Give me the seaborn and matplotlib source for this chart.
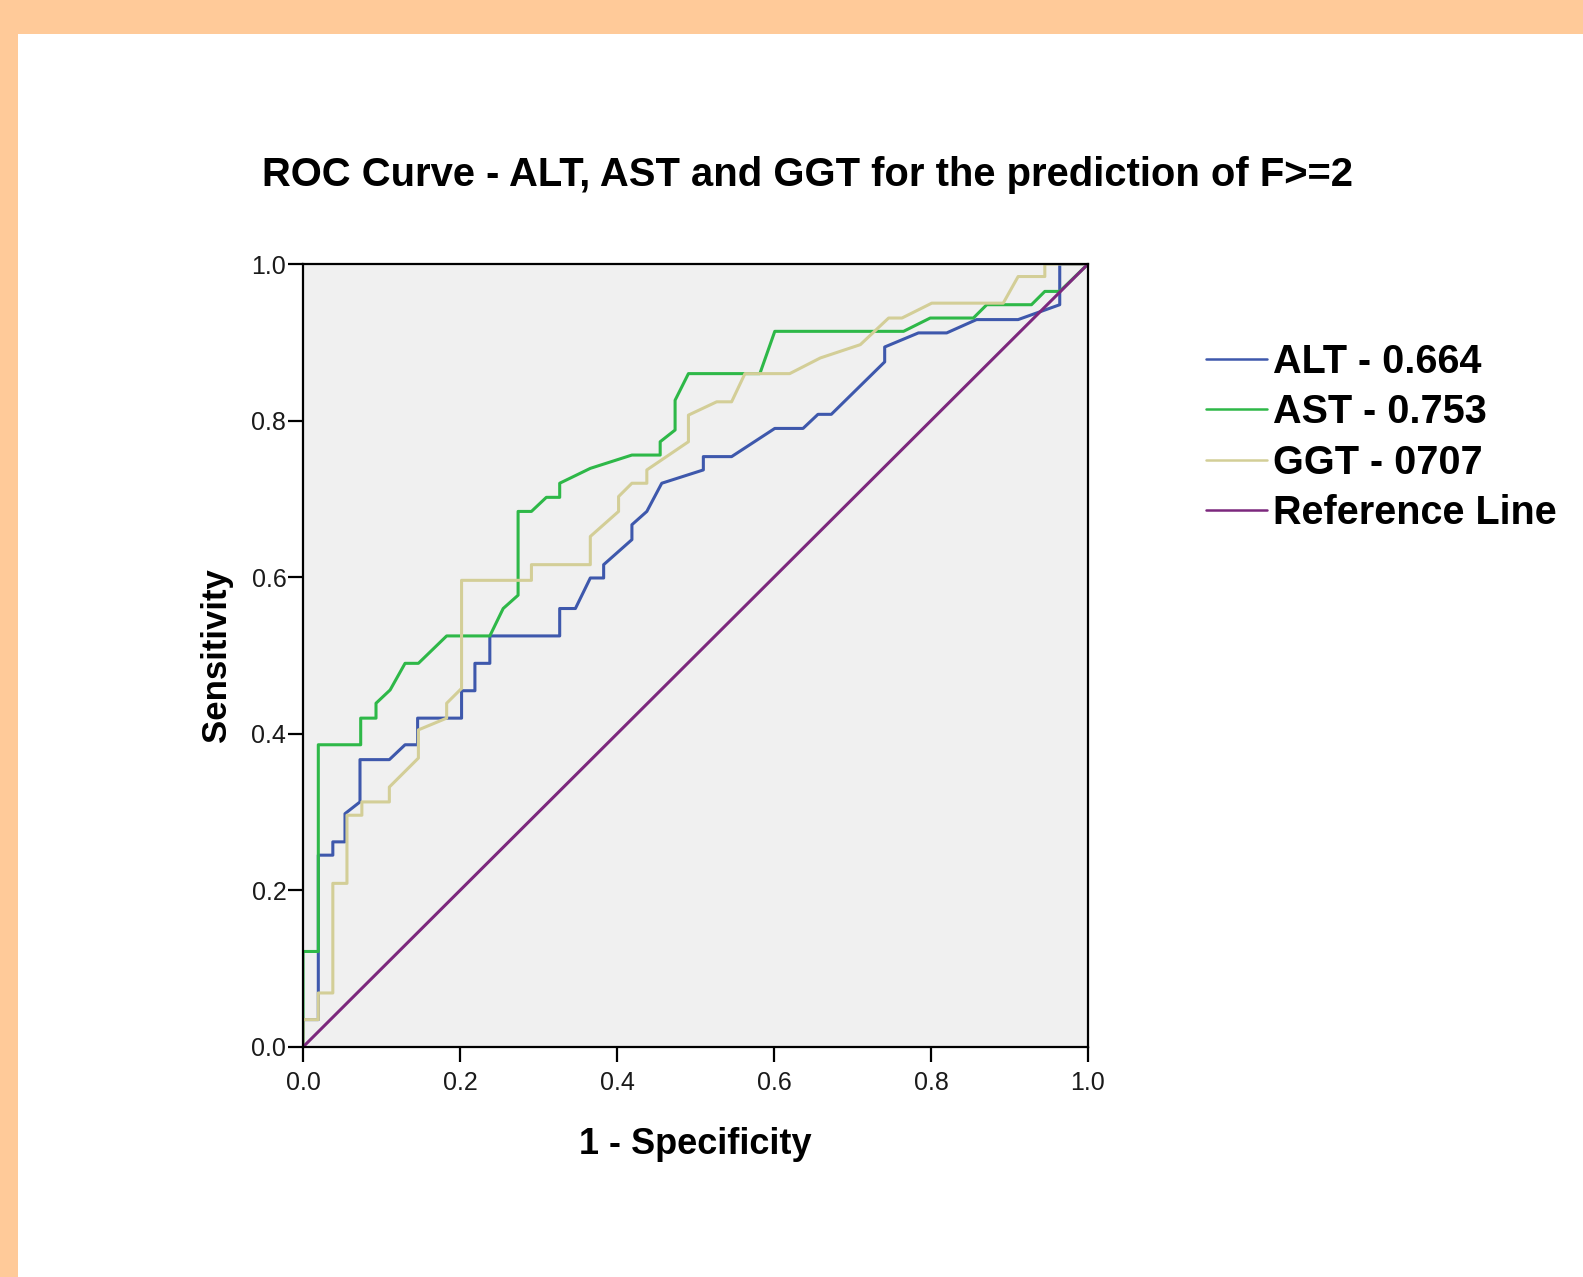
import matplotlib
matplotlib.use("Agg")
import matplotlib.pyplot as plt
from matplotlib.patches import Rectangle
import seaborn as sns
import pandas as pd

# ---- data ----
ALT_x = [0, 0, 0.0195, 0.0195, 0.038, 0.038, 0.0535, 0.0535, 0.0726, 0.0726, 0.11, 0.13, 0.146, 0.146,
         0.202, 0.202, 0.219, 0.219, 0.238, 0.238, 0.327, 0.327, 0.347, 0.366, 0.383, 0.383, 0.419, 0.419,
         0.438, 0.457, 0.51, 0.51, 0.546, 0.601, 0.637, 0.656, 0.673, 0.741, 0.741, 0.784, 0.82, 0.858,
         0.911, 0.964, 0.964, 1.0]
ALT_y = [0, 0.035, 0.035, 0.245, 0.245, 0.262, 0.262, 0.298, 0.313, 0.367, 0.367, 0.386, 0.386, 0.42,
         0.42, 0.455, 0.455, 0.49, 0.49, 0.525, 0.525, 0.56, 0.56, 0.599, 0.599, 0.616, 0.648, 0.667,
         0.684, 0.72, 0.737, 0.754, 0.754, 0.79, 0.79, 0.808, 0.808, 0.875, 0.894, 0.912, 0.912, 0.929,
         0.929, 0.948, 1.0, 1.0]

AST_x = [0, 0, 0.0195, 0.0195, 0.0735, 0.0735, 0.093, 0.093, 0.111, 0.13, 0.147, 0.183, 0.238, 0.255,
         0.274, 0.274, 0.291, 0.31, 0.327, 0.327, 0.366, 0.419, 0.455, 0.455, 0.474, 0.474, 0.491, 0.582,
         0.601, 0.765, 0.799, 0.854, 0.871, 0.928, 0.945, 0.964, 1.0]
AST_y = [0, 0.122, 0.122, 0.386, 0.386, 0.42, 0.42, 0.439, 0.456, 0.49, 0.49, 0.525, 0.525, 0.56,
         0.577, 0.684, 0.684, 0.702, 0.702, 0.72, 0.739, 0.756, 0.756, 0.773, 0.788, 0.826, 0.86, 0.86,
         0.914, 0.914, 0.931, 0.931, 0.948, 0.948, 0.965, 0.965, 1.0]

GGT_x = [0, 0, 0.0195, 0.0195, 0.038, 0.038, 0.056, 0.056, 0.075, 0.075, 0.11, 0.11, 0.147, 0.147,
         0.183, 0.183, 0.202, 0.202, 0.291, 0.291, 0.366, 0.366, 0.402, 0.402, 0.419, 0.438, 0.438, 0.491,
         0.491, 0.527, 0.546, 0.563, 0.62, 0.659, 0.71, 0.746, 0.763, 0.801, 0.892, 0.911, 0.945, 0.945, 1.0]
GGT_y = [0, 0.035, 0.035, 0.069, 0.069, 0.209, 0.209, 0.296, 0.296, 0.313, 0.313, 0.332, 0.369, 0.405,
         0.42, 0.439, 0.458, 0.596, 0.596, 0.616, 0.616, 0.652, 0.684, 0.703, 0.72, 0.72, 0.737, 0.773,
         0.807, 0.824, 0.824, 0.86, 0.86, 0.88, 0.897, 0.931, 0.931, 0.95, 0.95, 0.984, 0.984, 1.0, 1.0]

REF_x = [0, 1]
REF_y = [0, 1]

labels = ["ALT - 0.664", "AST - 0.753", "GGT - 0707", "Reference Line"]
colors = ["#3E58AC", "#2EB848", "#D3CE97", "#7C287D"]
ticks = [0.0, 0.2, 0.4, 0.6, 0.8, 1.0]
tick_labels = ["0.0", "0.2", "0.4", "0.6", "0.8", "1.0"]

frames = []
for lab, xs, ys in zip(labels, [ALT_x, AST_x, GGT_x, REF_x], [ALT_y, AST_y, GGT_y, REF_y]):
    frames.append(pd.DataFrame({"fpr": xs, "tpr": ys, "series": lab}))
df = pd.concat(frames, ignore_index=True)

sns.set_style("ticks")
plt.rcParams["font.family"] = ["Liberation Sans", "DejaVu Sans"]
plt.rcParams["text.color"] = "black"
plt.rcParams["axes.labelcolor"] = "black"

W, H = 1583, 1277
fig = plt.figure(figsize=(W / 100, H / 100), dpi=100, facecolor="white")
fig.patches.append(Rectangle((0, 1 - 34 / H), 1, 34 / H, transform=fig.transFigure,
                             facecolor="#FFCA99", edgecolor="none", zorder=-10))
fig.patches.append(Rectangle((0, 0), 18 / W, 1, transform=fig.transFigure,
                             facecolor="#FFCA99", edgecolor="none", zorder=-10))

ax = fig.add_axes([303 / W, 1 - 1047 / H, 785 / W, 783 / H])
ax.set_facecolor("#F0F0F0")

sns.lineplot(data=df, x="fpr", y="tpr", hue="series", hue_order=labels,
             palette=dict(zip(labels, colors)), sort=False, estimator=None,
             linewidth=2.2, ax=ax, legend=True)

ax.set_xlim(0, 1)
ax.set_ylim(0, 1)
ax.set_xticks(ticks)
ax.set_xticklabels(tick_labels)
ax.set_yticks(ticks)
ax.set_yticklabels(tick_labels)
for s in ax.spines.values():
    s.set_color("black")
    s.set_linewidth(1.6)
ax.tick_params(axis="both", direction="out", length=11, width=1.6, color="black",
               labelsize=18, labelcolor="#1a1a1a")
ax.tick_params(axis="y", pad=1)
ax.tick_params(axis="x", pad=6)

ax.set_xlabel("1 - Specificity", fontsize=26, fontweight="bold", color="black")
ax.set_ylabel("Sensitivity", fontsize=25, fontweight="bold", color="black")
ax.xaxis.set_label_coords(0.5, (1047 - 1144) / 783)
ax.xaxis.label.set_va("center")
ax.yaxis.set_label_coords((217 - 303) / 785, 0.5)
ax.yaxis.label.set_va("center")
ax.yaxis.label.set_ha("center")

fig.text(808 / W, 1 - 175 / H, "ROC Curve - ALT, AST and GGT for the prediction of F>=2",
         fontsize=28.8, fontweight="bold", ha="center", va="center", color="black")

handles, _ = ax.get_legend_handles_labels()
leg = ax.legend(handles=handles, labels=labels, loc="upper left",
                bbox_to_anchor=(1206 / W, 1 - 343 / H), bbox_transform=fig.transFigure,
                frameon=False, borderpad=0, borderaxespad=0, handlelength=1.55,
                handletextpad=0.15, labelspacing=0.31,
                prop={"size": 28.5, "weight": "bold"})
for line in leg.get_lines():
    line.set_linewidth(1.8)
for t in leg.get_texts():
    t.set_color("black")

fig.savefig("out.png", dpi=100, facecolor=fig.get_facecolor())
